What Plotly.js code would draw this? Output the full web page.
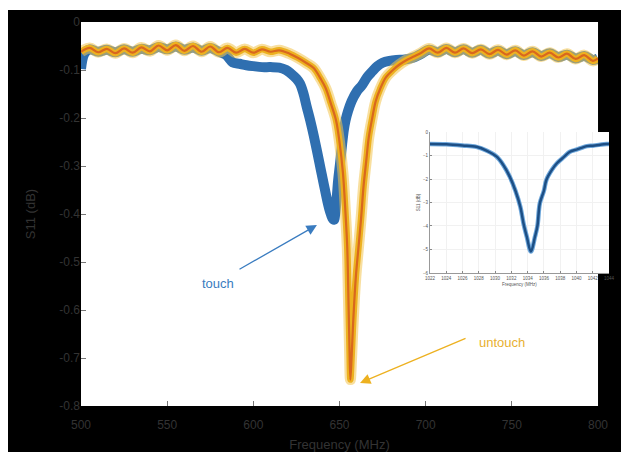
<!DOCTYPE html>
<html>
<head>
<meta charset="utf-8">
<script src="https://cdn.plot.ly/plotly-3.0.1.min.js"></script>
<style>html,body{margin:0;padding:0;background:#fff;}#chart{width:621px;height:452px;}</style>
</head>
<body>
<div id="chart"></div>
<script>
// Main chart: S11 (dB) vs Frequency (MHz)
var untouchFreq = [500,505,510,515,520,525,530,535,540,545,550,555,560,565,570,575,580,585,590,595,600,605,610,615,
  621,626,631,635,639,642,645,648,650,652,653.5,654.5,655.2,655.8,656.3,657,658,659.5,661,662.5,664,665.5,667,669,671,673.5,677,681,685,689,693,
  697,702,707,712,717,722,727,732,737,742,747,752,757,762,767,772,777,782,787,792,797,800];
var untouchS11 = [-0.062,-0.054,-0.063,-0.056,-0.065,-0.055,-0.064,-0.053,-0.061,-0.049,-0.059,-0.048,-0.060,-0.050,-0.062,-0.051,-0.063,-0.054,-0.064,-0.056,-0.064,-0.057,-0.062,-0.059,
  -0.066,-0.075,-0.086,-0.096,-0.118,-0.138,-0.170,-0.205,-0.250,-0.315,-0.400,-0.470,-0.580,-0.680,-0.745,-0.700,-0.620,-0.530,-0.470,-0.410,-0.340,-0.290,-0.240,-0.200,-0.165,-0.140,-0.115,-0.100,-0.088,-0.079,-0.072,
  -0.065,-0.055,-0.064,-0.054,-0.064,-0.055,-0.065,-0.057,-0.067,-0.058,-0.068,-0.059,-0.070,-0.061,-0.072,-0.064,-0.074,-0.066,-0.077,-0.069,-0.081,-0.076];

var touchFreq = [500,502,505,510,515,520,525,530,535,540,545,550,555,560,565,570,575,580,584,
  588,592,596,600,605,610,615,619,622,625,627,629,631,633,635,637,639,641,643,644.5,645.8,646.8,647.5,648.3,649.2,650.3,651.5,652.5,653.5,655,657,660,663,666,669,672,675,679,683,688,
  693,697,702,707,712,717,722,727,732,737,742,747,752,757,762,767,772,777,782,787,792,797,800];
var touchS11 = [-0.098,-0.066,-0.057,-0.062,-0.058,-0.063,-0.057,-0.062,-0.056,-0.059,-0.052,-0.057,-0.051,-0.058,-0.053,-0.060,-0.054,-0.062,-0.068,
  -0.084,-0.087,-0.090,-0.092,-0.094,-0.094,-0.095,-0.100,-0.108,-0.118,-0.128,-0.148,-0.177,-0.205,-0.236,-0.270,-0.305,-0.340,-0.374,-0.395,-0.408,-0.412,-0.400,-0.370,-0.330,-0.295,-0.255,-0.225,-0.205,-0.185,-0.165,-0.145,-0.132,-0.115,-0.103,-0.092,-0.085,-0.081,-0.079,-0.078,
  -0.074,-0.067,-0.058,-0.063,-0.056,-0.063,-0.057,-0.064,-0.058,-0.066,-0.060,-0.067,-0.061,-0.069,-0.063,-0.071,-0.065,-0.073,-0.068,-0.076,-0.071,-0.079,-0.076];

// Inset
var insetFreq = [1022,1024,1026,1027.7,1029,1030.2,1031,1031.8,1032.5,1033.1,1033.5,1033.9,1034.4,1034.9,1035.2,1035.5,1036,1036.3,1037,1037.6,1038.5,1039.2,1040,1041.3,1042,1043.7,1044];
var insetS11 = [-0.51,-0.52,-0.57,-0.63,-0.80,-1.05,-1.40,-1.90,-2.50,-3.18,-3.90,-4.46,-5.09,-4.46,-4.00,-3.03,-2.50,-2.04,-1.60,-1.33,-1.05,-0.84,-0.75,-0.60,-0.58,-0.51,-0.51];

var xTicks = [500,550,600,650,700,750,800];
var yTicks = [0,-0.1,-0.2,-0.3,-0.4,-0.5,-0.6,-0.7,-0.8];
var yTickText = ['0','-0.1','-0.2','-0.3','-0.4','-0.5','-0.6','-0.7','-0.8'];
var insetXTicks = [1022,1024,1026,1028,1030,1032,1034,1036,1038,1040,1042,1044];
var insetYTicks = [0,-1,-2,-3,-4,-5,-6];

var traces = [
  {x: touchFreq, y: touchS11, mode: 'lines', line: {color: '#2f6fb0', width: 10, shape: 'spline'}, xaxis: 'x', yaxis: 'y', hoverinfo: 'skip'},
  {x: untouchFreq, y: untouchS11, mode: 'lines', line: {color: 'rgba(242,196,80,0.55)', width: 11, shape: 'spline'}, xaxis: 'x', yaxis: 'y', hoverinfo: 'skip'},
  {x: untouchFreq, y: untouchS11, mode: 'lines', line: {color: '#EDB120', width: 6.5, shape: 'spline'}, xaxis: 'x', yaxis: 'y', hoverinfo: 'skip'},
  {x: untouchFreq, y: untouchS11, mode: 'lines', line: {color: '#D9671E', width: 2.2, shape: 'spline'}, xaxis: 'x', yaxis: 'y', hoverinfo: 'skip'},
  {x: insetFreq, y: insetS11, mode: 'lines', line: {color: '#6fa8dc', width: 4.5, shape: 'spline'}, xaxis: 'x2', yaxis: 'y2', hoverinfo: 'skip'},
  {x: insetFreq, y: insetS11, mode: 'lines', line: {color: '#1d4f85', width: 2.5, shape: 'spline'}, xaxis: 'x2', yaxis: 'y2', hoverinfo: 'skip'}
];

var tickFont = {family: 'Liberation Sans, Arial, sans-serif', size: 12, color: '#333333'};
var insetFont = {family: 'Liberation Sans, Arial, sans-serif', size: 4.5, color: '#555'};

var layout = {
  width: 621, height: 452,
  paper_bgcolor: '#000000',
  plot_bgcolor: '#ffffff',
  showlegend: false,
  margin: {l: 81, r: 12, t: 22, b: 46},
  xaxis: {
    domain: [0, 0.9792], range: [500, 800], tickvals: xTicks,
    ticks: 'inside', ticklen: 5, tickcolor: '#777', tickwidth: 1,
    showgrid: false, zeroline: false, showline: false,
    tickfont: tickFont, ticklabelstandoff: 10,
    title: {text: 'Frequency (MHz)', font: {family: 'Liberation Sans, Arial, sans-serif', size: 13, color: '#333333'}, standoff: 11}
  },
  yaxis: {
    domain: [0, 1], range: [-0.8, 0], tickvals: yTicks, ticktext: yTickText,
    ticks: 'inside', ticklen: 5, tickcolor: '#777', tickwidth: 1,
    showgrid: false, zeroline: false, showline: false,
    tickfont: tickFont,
    title: {text: 'S11 (dB)', font: {family: 'Liberation Sans, Arial, sans-serif', size: 13, color: '#333333'}, standoff: 20}
  },
  xaxis2: {
    domain: [0.661, 1.0], range: [1022, 1044], tickvals: insetXTicks, anchor: 'y2',
    ticks: 'inside', ticklen: 2, tickcolor: '#888',
    showgrid: true, gridcolor: '#f1f1f1', zeroline: false,
    showline: true, linecolor: '#999', linewidth: 1,
    tickfont: insetFont, ticklabelstandoff: 1,
    title: {text: 'Frequency (MHz)', font: insetFont, standoff: 2}
  },
  yaxis2: {
    domain: [0.3464, 0.7135], range: [-6, 0], tickvals: insetYTicks, anchor: 'x2',
    ticks: 'inside', ticklen: 2, tickcolor: '#888',
    showgrid: true, gridcolor: '#f1f1f1', zeroline: false,
    showline: true, linecolor: '#999', linewidth: 1,
    tickfont: insetFont,
    title: {text: 'S11 (dB)', font: insetFont, standoff: 2}
  },
  shapes: [
    {type: 'rect', xref: 'paper', yref: 'paper', x0: -81/528, x1: 540/528, y0: 1 + 12/384, y1: 1 + 22/384, fillcolor: '#ffffff', line: {width: 0}, layer: 'above'},
    {type: 'rect', xref: 'paper', yref: 'paper', x0: -81/528, x1: -73/528, y0: -46/384, y1: 1 + 22/384, fillcolor: '#ffffff', line: {width: 0}, layer: 'above'}
  ],
  annotations: [
    {xref: 'x', yref: 'y', x: 636.9, y: -0.423, ax: 591.1, ay: -0.517, axref: 'x', ayref: 'y', text: '', showarrow: true,
     arrowhead: 2, arrowsize: 1.6, arrowwidth: 1.3, arrowcolor: '#3a7cc0'},
    {xref: 'x', yref: 'y', x: 579.5, y: -0.544, text: 'touch', showarrow: false,
     font: {family: 'Liberation Sans, Arial, sans-serif', size: 13, color: '#3a7cc0'}},
    {xref: 'x', yref: 'y', x: 661.9, y: -0.752, ax: 724, ay: -0.658, axref: 'x', ayref: 'y', text: '', showarrow: true,
     arrowhead: 2, arrowsize: 1.6, arrowwidth: 1.3, arrowcolor: '#EDB120'},
    {xref: 'x', yref: 'y', x: 729.8, y: -0.667, xanchor: 'left', text: 'untouch', showarrow: false,
     font: {family: 'Liberation Sans, Arial, sans-serif', size: 13, color: '#E8B030'}}
  ]
};

Plotly.newPlot('chart', traces, layout, {displayModeBar: false, staticPlot: true});
</script>
</body>
</html>
